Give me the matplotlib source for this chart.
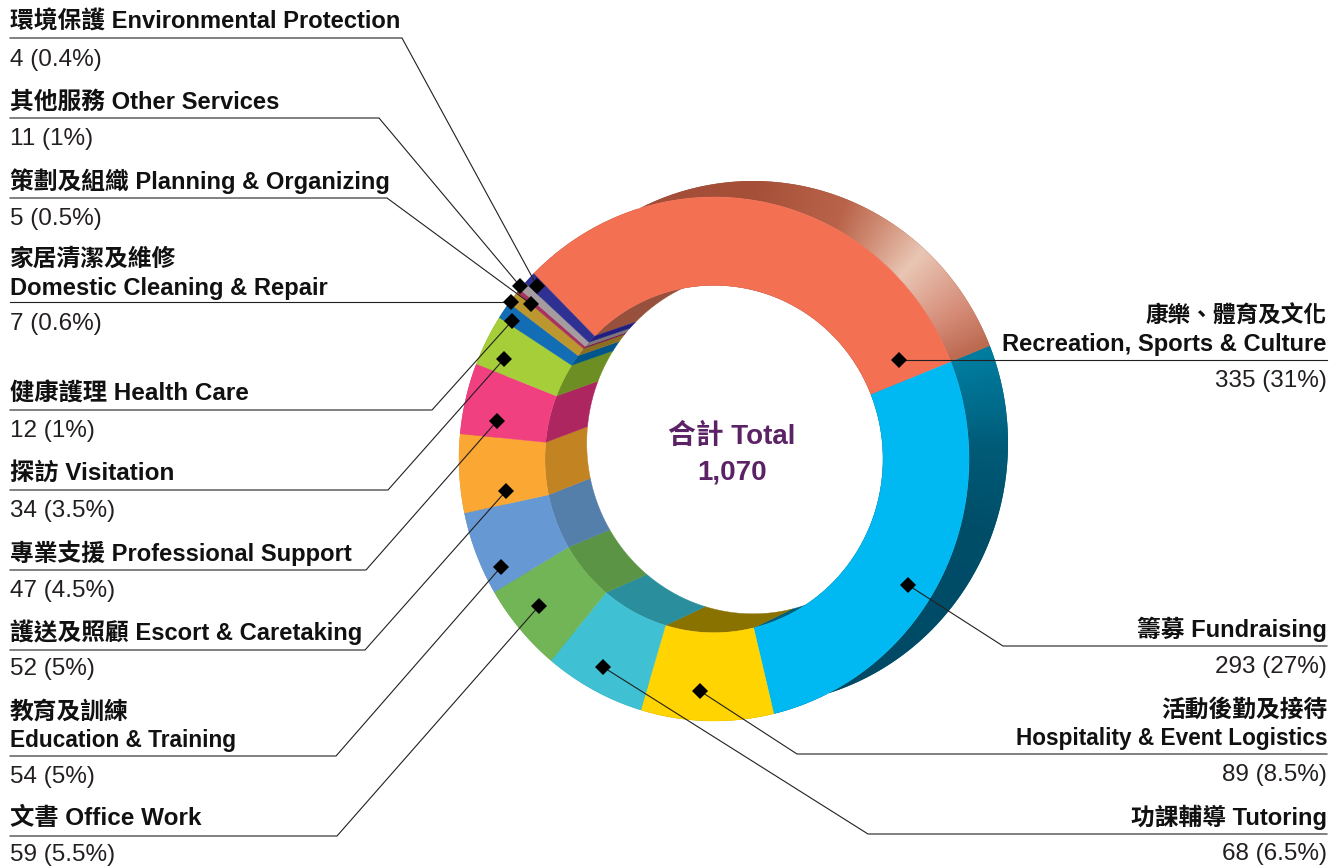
import numpy as np
import matplotlib
matplotlib.use('Agg')
import matplotlib.pyplot as plt
from matplotlib.patches import Polygon

plt.rcParams['font.family'] = ['Liberation Sans', 'Noto Sans CJK TC', 'DejaVu Sans']

# slice widths as drawn in the chart (the small ones don't quite follow their printed numbers)
slice_values = [338, 293, 90.2, 68.8, 59, 55.5, 52, 47, 34, 11.5, 8.8, 2.8, 5.5, 8.2]
face_colors = ['#F37053', '#00B9F2', '#FFD400', '#3FC1D3', '#72B556', '#6699D3', '#FBA733',
               '#F0407F', '#A6CE39', '#126DB5', '#BC962F', '#A8325F', '#A59CA0', '#2E3192']
wall_colors = ['#96503C', '#005F7C', '#8A7200', '#2A8E9C', '#5A9444', '#557FAB', '#C28423',
               '#AD2660', '#6D8E22', '#00558A', '#8B6F20', '#7A2048', '#7C767A', '#1E1E80']

# labels: title lines, value text
left_labels = [
    (['環境保護 Environmental Protection'], '4 (0.4%)'),
    (['其他服務 Other Services'], '11 (1%)'),
    (['策劃及組織 Planning & Organizing'], '5 (0.5%)'),
    (['家居清潔及維修', 'Domestic Cleaning & Repair'], '7 (0.6%)'),
    (['健康護理 Health Care'], '12 (1%)'),
    (['探訪 Visitation'], '34 (3.5%)'),
    (['專業支援 Professional Support'], '47 (4.5%)'),
    (['護送及照顧 Escort & Caretaking'], '52 (5%)'),
    (['教育及訓練', 'Education & Training'], '54 (5%)'),
    (['文書 Office Work'], '59 (5.5%)'),
]
right_labels = [
    (['康樂、體育及文化', 'Recreation, Sports & Culture'], '335 (31%)'),
    (['籌募 Fundraising'], '293 (27%)'),
    (['活動後勤及接待', 'Hospitality & Event Logistics'], '89 (8.5%)'),
    (['功課輔導 Tutoring'], '68 (6.5%)'),
]

# leader layout in pixels: rule height, rule end, marker position
left_rules = [(38, 402, 537, 286), (118, 379, 520, 286), (198, 387, 531, 304), (302, 511, 511, 302),
              (410, 432, 512, 321), (490, 388, 504, 359), (570, 366, 497, 421), (650, 365, 506, 491),
              (756, 336, 501, 567), (836, 337, 539, 606)]
right_rules = [(360, 899, 899, 360), (646, 1003, 908, 585), (754, 797, 700, 691), (834, 868, 603, 667)]
left_title_dy = [-9, -9, -9, -7.5, -9, -10, -9, -10, -9, -11]
left_value_dy = [28, 27, 26.5, 28, 27, 26.5, 26.5, 25.5, 26.5, 25.5]
right_title_dy = [-9, -9, -9, -9.5]
right_value_dy = [27, 27, 27, 26]

TITLE_SIZE = 17.1
# a few lines are set tighter or looser than the rest in the original
title_sizes = {'康樂、體育及文化': 16.3, 'Education & Training': 16.3, 'Hospitality & Event Logistics': 16.3,
               '健康護理 Health Care': 17.5, '探訪 Visitation': 17.5, '文書 Office Work': 17.5}

W, H = 1343, 868
FX, FY = 714, 459    # front face centre
BX, BY = 753, 443    # back face centre
RX, RY = 255, 262
HOLE = 0.663
BACK_HOLE = 0.652
START = 135
INK = '#231F20'


def arc(cx, cy, scale, a0, a1):
    t = np.radians(np.linspace(a0, a1, max(int(abs(a1 - a0) * 2), 2)))
    return np.column_stack([cx + scale * RX * np.cos(t), cy - scale * RY * np.sin(t)])


def lerp_colors(angle, stops, colors):
    rgb = np.array([matplotlib.colors.to_rgb(c) for c in colors])
    return np.dstack([np.interp(angle, stops, rgb[:, i]) for i in range(3)])


def draw_label(lines, value, y, x, ha, title_dy, value_dy):
    for k, line in enumerate(reversed(lines)):
        ax.text(x, y + title_dy - 28.5 * k, line, fontsize=title_sizes.get(line, TITLE_SIZE),
                fontweight='bold', color='#111111', ha=ha, va='baseline')
    ax.text(x, y + value_dy, value, fontsize=17.5, color=INK, ha=ha, va='baseline')


fig = plt.figure(figsize=(W / 100, H / 100), dpi=100)
ax = fig.add_axes([0, 0, 1, 1])

edges = START - np.cumsum([0] + slice_values) / sum(slice_values) * 360

# shaded outer wall: colour runs with the angle round the back face
yy, xx = np.mgrid[0:H, 0:W]
ang = np.degrees(np.arctan2(BY - yy, xx - BX))
salmon_img = lerp_colors(ang, [23, 33, 48.7, 60, 69, 90, 135],
                         ['#BC6A50', '#D58C78', '#E9C6B4', '#D08C74', '#B9644A', '#A64F38', '#A04E38'])
blue_img = lerp_colors(ang, [-60, -20, 0, 8, 21],
                       ['#004A66', '#004E69', '#005C78', '#006A8A', '#007C9E'])

for i, (a0, a1) in enumerate(zip(edges[:-1], edges[1:])):
    wall = Polygon(np.vstack([arc(FX, FY, 1, a0, a1), arc(BX, BY, 1, a1, a0)]),
                   closed=True, fc=wall_colors[i], ec='none')
    ax.add_patch(wall)
    if i < 2:
        img = ax.imshow(salmon_img if i == 0 else blue_img, extent=(0, W, H, 0), aspect='auto', zorder=1.5)
        img.set_clip_path(wall)

# wall of the hole
for i, (a0, a1) in enumerate(zip(edges[:-1], edges[1:])):
    ax.add_patch(Polygon(np.vstack([arc(FX, FY, HOLE, a0, a1), arc(BX, BY, BACK_HOLE, a1, a0)]),
                         closed=True, fc=wall_colors[i], ec=wall_colors[i], lw=0.3, zorder=2))

# front face
for i, (a0, a1) in enumerate(zip(edges[:-1], edges[1:])):
    ax.add_patch(Polygon(np.vstack([arc(FX, FY, 1, a0, a1), arc(FX, FY, HOLE, a1, a0)]),
                         closed=True, fc=face_colors[i], ec=face_colors[i], lw=0.3, zorder=3))

# labels and leaders
for (lines, value), (y, xe, mx, my), tdy, vdy in zip(left_labels, left_rules, left_title_dy, left_value_dy):
    ax.plot([10, xe, mx], [y, y, my], color=INK, lw=0.8, zorder=4)
    ax.plot(mx, my, 'D', color='black', ms=8.2, mew=0, zorder=5)
    draw_label(lines, value, y, 10, 'left', tdy, vdy)

for (lines, value), (y, xe, mx, my), tdy, vdy in zip(right_labels, right_rules, right_title_dy, right_value_dy):
    ax.plot([1327, xe, mx], [y, y, my], color=INK, lw=0.8, zorder=4)
    ax.plot(mx, my, 'D', color='black', ms=8.2, mew=0, zorder=5)
    draw_label(lines, value, y, 1327, 'right', tdy, vdy)

ax.text(732, 444, '合計 Total', fontsize=20, fontweight='bold', color='#5B2266', ha='center', va='baseline')
ax.text(732, 480, '1,070', fontsize=20, fontweight='bold', color='#5B2266', ha='center', va='baseline')

ax.set_xlim(0, W)
ax.set_ylim(H, 0)
ax.axis('off')
fig.savefig('out.png', dpi=100)
